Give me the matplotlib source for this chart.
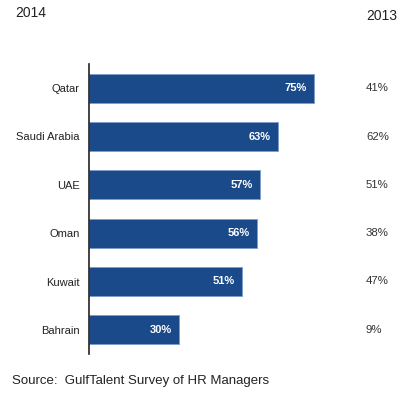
import matplotlib
matplotlib.use("Agg")
import matplotlib.pyplot as plt

countries = ["Qatar", "Saudi Arabia", "UAE", "Oman", "Kuwait", "Bahrain"]
values_2014 = [75, 63, 57, 56, 51, 30]
values_2013 = [41, 62, 51, 38, 47, 9]

W, H = 408, 396
fig = plt.figure(figsize=(W / 100, H / 100), dpi=100)
plt.rcParams['font.family'] = ['Liberation Sans', 'DejaVu Sans']

ax_left, ax_right = 89, 360
ax_top, ax_bottom = 64, 354
ax = fig.add_axes([ax_left / W, 1 - ax_bottom / H, (ax_right - ax_left) / W, (ax_bottom - ax_top) / H])
ax.set_xlim(0, (ax_right - ax_left) / 3.0)
ax.set_ylim(len(countries) - 0.5, -0.5)

ypos = list(range(len(countries)))
ax.barh(ypos, values_2014, height=0.6, color="#1a4a8a", edgecolor="#7d9dc8", linewidth=0.6)

for y, v in zip(ypos, values_2014):
    ax.text(v - 2.3, y, f"{v}%", color="white", fontsize=8, fontweight="bold",
            ha="right", va="center")

for y, v in zip(ypos, values_2013):
    ax.annotate(f"{v}%", xy=(1, y), xycoords=("axes fraction", "data"),
                xytext=(366 - ax_right, 0), textcoords="offset pixels",
                ha="left", va="center", fontsize=8.2, color="#333333")

ax.set_yticks(ypos)
ax.set_yticklabels(countries, fontsize=8, color="#222222")
ax.tick_params(axis="y", length=0, pad=6.5)
ax.set_xticks([])
for s in ["top", "right", "bottom"]:
    ax.spines[s].set_visible(False)
ax.spines["left"].set_color("#222222")
ax.spines["left"].set_linewidth(1.2)

fig.text(15 / W, 1 - 13 / H, "2014", fontsize=10, ha="left", va="center", color="#222222")
fig.text(397 / W, 1 - 16 / H, "2013", fontsize=10, ha="right", va="center", color="#222222")
fig.text(12 / W, 1 - 381 / H, "Source:  GulfTalent Survey of HR Managers", fontsize=9.5,
         ha="left", va="center", color="#222222")

fig.savefig("out.png", dpi=100)
